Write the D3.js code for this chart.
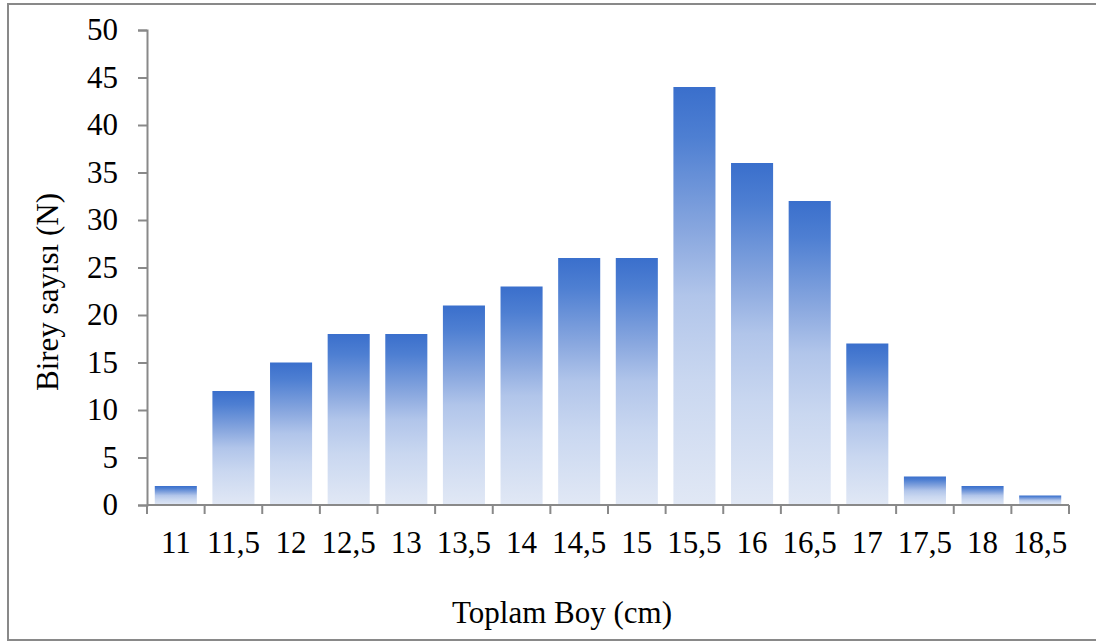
<!DOCTYPE html>
<html>
<head>
<meta charset="utf-8">
<script src="https://cdn.jsdelivr.net/npm/d3@7"></script>
<style>
  html, body { margin: 0; padding: 0; background: #fff; }
  svg { display: block; }
  text { font-family: "Liberation Serif", "Times New Roman", serif; fill: #000; }
</style>
</head>
<body>
<svg id="chart" width="1096" height="641"></svg>
<script>
// Length classes (cm) and number of individuals in each class
const categories = ["11", "11,5", "12", "12,5", "13", "13,5", "14", "14,5", "15", "15,5", "16", "16,5", "17", "17,5", "18", "18,5"];
const counts = [2, 12, 15, 18, 18, 21, 23, 26, 26, 44, 36, 32, 17, 3, 2, 1];
const yTicks = [0, 5, 10, 15, 20, 25, 30, 35, 40, 45, 50];
const xTitle = "Toplam Boy (cm)";
const yTitle = "Birey sayısı (N)";

const svg = d3.select("#chart");
const W = 1096, H = 641;
const plotLeft = 147, plotRight = 1069, plotTop = 30, plotBottom = 505;
const axisColor = "#898989";
const fontSize = 31;

// Outer frame
svg.append("rect")
  .attr("x", 8).attr("y", 4)
  .attr("width", W + 10).attr("height", H - 5)
  .attr("fill", "#fff")
  .attr("stroke", axisColor).attr("stroke-width", 2);

const x = d3.scaleBand().domain(categories).range([plotLeft, plotRight])
  .paddingInner(0.27).paddingOuter(0.135);
const y = d3.scaleLinear().domain([0, 50]).range([plotBottom, plotTop]);

// Vertical gradient used by every bar
const defs = svg.append("defs");
const grad = defs.append("linearGradient")
  .attr("id", "barFill")
  .attr("x1", 0).attr("y1", 0).attr("x2", 0).attr("y2", 1);
[[0, "#3a6fcc"], [0.12, "#4e7fd2"], [0.35, "#8aa8df"], [0.5, "#b1c5ea"], [0.7, "#c9d7f0"], [1, "#e1e8f5"]]
  .forEach(([o, c]) => grad.append("stop").attr("offset", o).attr("stop-color", c));

svg.append("g").selectAll("rect")
  .data(categories.map((c, i) => ({ c, v: counts[i] })))
  .join("rect")
  .attr("x", d => x(d.c))
  .attr("y", d => y(d.v))
  .attr("width", x.bandwidth())
  .attr("height", d => y(0) - y(d.v))
  .attr("fill", "url(#barFill)");

// Y axis
const yAxis = svg.append("g")
  .attr("transform", `translate(${plotLeft},0)`)
  .call(d3.axisLeft(y).tickValues(yTicks).tickSize(9).tickPadding(20));
yAxis.select(".domain").attr("stroke", axisColor).attr("stroke-width", 2);
yAxis.selectAll(".tick line").attr("stroke", axisColor).attr("stroke-width", 2);
yAxis.selectAll(".tick text")
  .style("font-family", '"Liberation Serif", "Times New Roman", serif')
  .attr("font-size", fontSize).attr("fill", "#000");

// X axis: line along zero with ticks between categories
const xg = svg.append("g");
xg.append("line")
  .attr("x1", plotLeft).attr("x2", plotRight)
  .attr("y1", y(0)).attr("y2", y(0))
  .attr("stroke", axisColor).attr("stroke-width", 2);
const gap = (x.step() - x.bandwidth()) / 2;
const boundaries = categories.map(c => x(c) - gap).concat([x(categories[categories.length - 1]) + x.bandwidth() + gap]);
xg.selectAll("line.tick")
  .data(boundaries)
  .join("line")
  .attr("class", "tick")
  .attr("x1", d => d).attr("x2", d => d)
  .attr("y1", y(0)).attr("y2", y(0) + 9)
  .attr("stroke", axisColor).attr("stroke-width", 2);
xg.selectAll("text")
  .data(categories)
  .join("text")
  .attr("x", d => x(d) + x.bandwidth() / 2)
  .attr("y", 553)
  .attr("text-anchor", "middle")
  .attr("font-size", fontSize)
  .text(d => d);

// Axis titles
svg.append("text")
  .attr("x", 562).attr("y", 623)
  .attr("text-anchor", "middle")
  .attr("font-size", fontSize)
  .text(xTitle);

svg.append("text")
  .attr("transform", "translate(58,292) rotate(-90)")
  .attr("text-anchor", "middle")
  .attr("font-size", fontSize)
  .text(yTitle);
</script>
</body>
</html>
